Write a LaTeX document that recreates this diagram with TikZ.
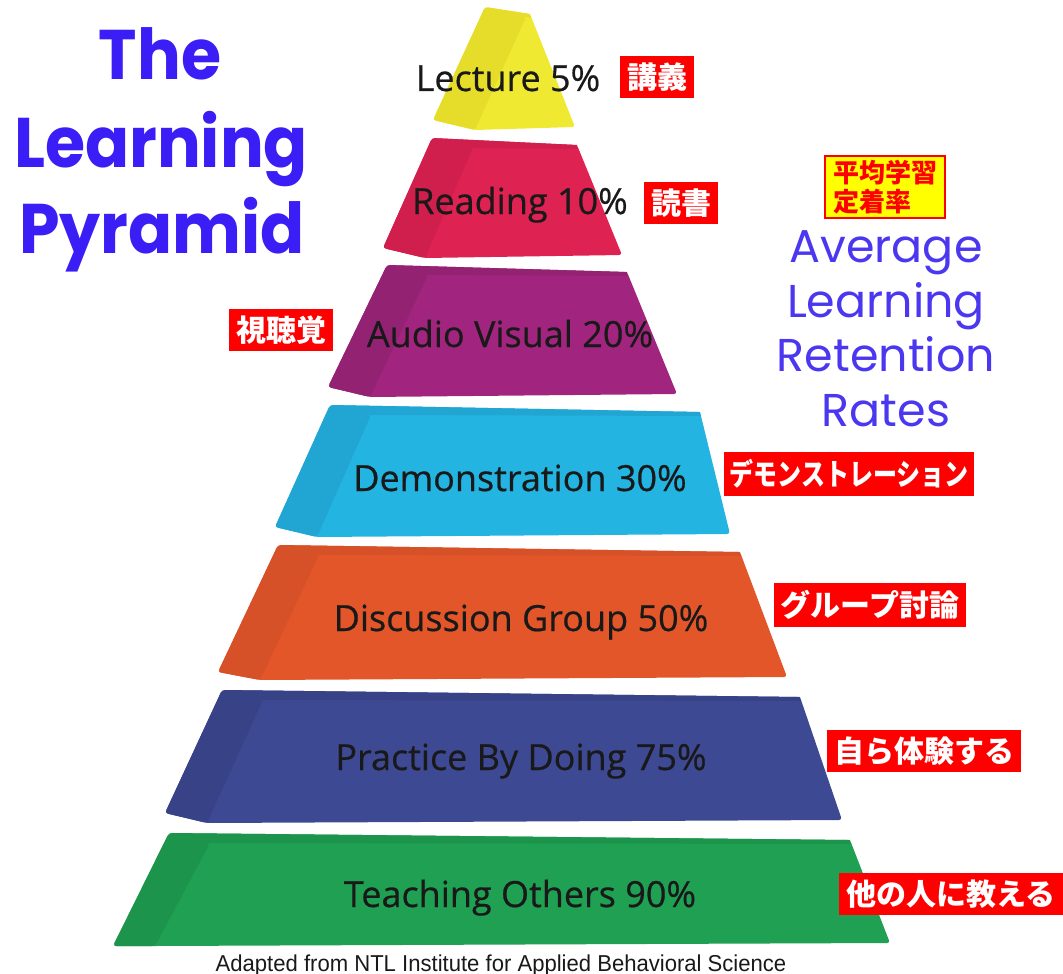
\documentclass[tikz,border=0pt]{standalone}
\usepackage{fontspec}
\setmainfont{Open Sans}
\newfontfamily\lblfont{Open Sans}[FakeBold=0.5]
\newfontfamily\titlefont{Poppins}
\newfontfamily\jpfont{Noto Sans CJK JP}
\newfontfamily\capfont{Liberation Sans}

\definecolor{lectureC}{RGB}{240,233,50}
\definecolor{lectureS}{RGB}{230,221,42}
\definecolor{readingC}{RGB}{222,34,82}
\definecolor{readingS}{RGB}{209,31,77}
\definecolor{audioC}{RGB}{161,37,126}
\definecolor{audioS}{RGB}{148,34,115}
\definecolor{demoC}{RGB}{36,180,225}
\definecolor{demoS}{RGB}{33,166,212}
\definecolor{discussC}{RGB}{226,86,42}
\definecolor{discussS}{RGB}{214,80,40}
\definecolor{practiceC}{RGB}{62,73,147}
\definecolor{practiceS}{RGB}{56,66,135}
\definecolor{teachC}{RGB}{32,160,82}
\definecolor{teachS}{RGB}{29,148,75}
\definecolor{titleblue}{RGB}{58,30,245}
\definecolor{rateblue}{RGB}{75,55,240}
\definecolor{jpred}{RGB}{255,0,0}
\definecolor{jpyellow}{RGB}{255,255,0}

% one slab of the pyramid: top, bottom, top-left x, top-right x,
% bottom-right x, bottom-left x, colour prefix, lift of the far corner
\newcommand{\slab}[8]{%
  \fill[#7C,rounded corners=3pt] (#3,-#1) -- (#4,-#1-7) -- (#5,-#2+3)
    -- (#6+42,-#2) -- (#6,-#2+#8) -- cycle;
  \fill[#7S,rounded corners=3pt] (#3,-#1) -- (#3+41,-#1-10)
    -- (#6+42,-#2) -- (#6,-#2+#8) -- cycle;
  \fill[#7S] (#3,-#1) -- (#4,-#1-7) -- (#4+1,-#1-11) -- (#3+41,-#1-10) -- cycle;
}

\begin{document}
\begin{tikzpicture}
  [x=1pt,y=1pt,
   lbl/.style={anchor=base,inner sep=0pt,text=black!90,font=\lblfont\fontsize{36}{40}\selectfont},
   jp/.style={fill=jpred,text=white,inner xsep=7pt,inner ysep=7pt,
              font=\jpfont\bfseries\fontsize{30}{32}\selectfont},
   ttl/.style={anchor=base,inner sep=0pt,text=titleblue,yscale=1.08,
               font=\titlefont\bfseries\fontsize{65}{75}\selectfont},
   rate/.style={anchor=base,inner sep=0pt,text=rateblue,
                font=\titlefont\fontsize{46}{50}\selectfont}]
  \useasboundingbox (0,0) rectangle (1063,-974);

  % slabs, top to bottom
  \slab{7}{130}{485}{530}{575}{433}{lecture}{10}
  \slab{138}{258}{432}{577}{622}{383}{reading}{10}
  \slab{265}{397}{387}{627}{677}{328}{audio}{10}
  \slab{405}{537}{330}{700}{730}{275}{demo}{10}
  \slab{545}{680}{278}{740}{787}{218}{discuss}{8}
  \slab{690}{823}{222}{800}{842}{165}{practice}{10}
  \slab{833}{946}{169}{850}{890}{113}{teach}{0}

  \node[lbl] (lecture) at (508,-91) {Lecture 5\%};
  \node[lbl] (reading) at (520,-214) {Reading 10\%};
  \node[lbl] (audio) at (510,-347) {Audio Visual 20\%};
  \node[lbl] (demo) at (520,-491) {Demonstration 30\%};
  \node[lbl] (discuss) at (521,-631) {Discussion Group 50\%};
  \node[lbl] (practice) at (521,-770) {Practice By Doing 75\%};
  \node[lbl] (teach) at (520,-907) {Teaching Others 90\%};

  \node[jp] (lectureJ) at (657,-77) {講義};
  \node[jp] (readingJ) at (681,-203) {読書};
  \node[jp] (audioJ) at (281,-330) {視聴覚};
  \node[jp,xscale=0.8] (demoJ) at (849,-474) {デモンストレーション};
  \node[jp] (discussJ) at (870,-605) {グループ討論};
  \node[jp] (practiceJ) at (924,-751) {自ら体験する};
  \node[jp] (teachJ) at (951,-894) {他の人に教える};

  % title
  \node[ttl] (title1) at (160,-80) {The};
  \node[ttl] (title2) at (161,-167) {Learning};
  \node[ttl] (title3) at (162,-253) {Pyramid};

  % retention heading
  \node[draw=jpred,line width=1.5pt,fill=jpyellow,text=jpred,align=left,
        inner xsep=8pt,inner ysep=4pt,
        font=\jpfont\bfseries\fontsize{26}{29}\selectfont] (rateJ) at (885,-187)
        {平均学習\\定着率};
  \node[rate] (rate1) at (886,-262) {Average};
  \node[rate] (rate2) at (886,-317) {Learning};
  \node[rate] (rate3) at (886,-371) {Retention};
  \node[rate] (rate4) at (886,-426) {Rates};

  \node[anchor=base,inner sep=0pt,xscale=0.96,text=black!90,
        font=\capfont\fontsize{23}{25}\selectfont]
    (source) at (501,-971) {Adapted from NTL Institute for Applied Behavioral Science};
\end{tikzpicture}
\end{document}
